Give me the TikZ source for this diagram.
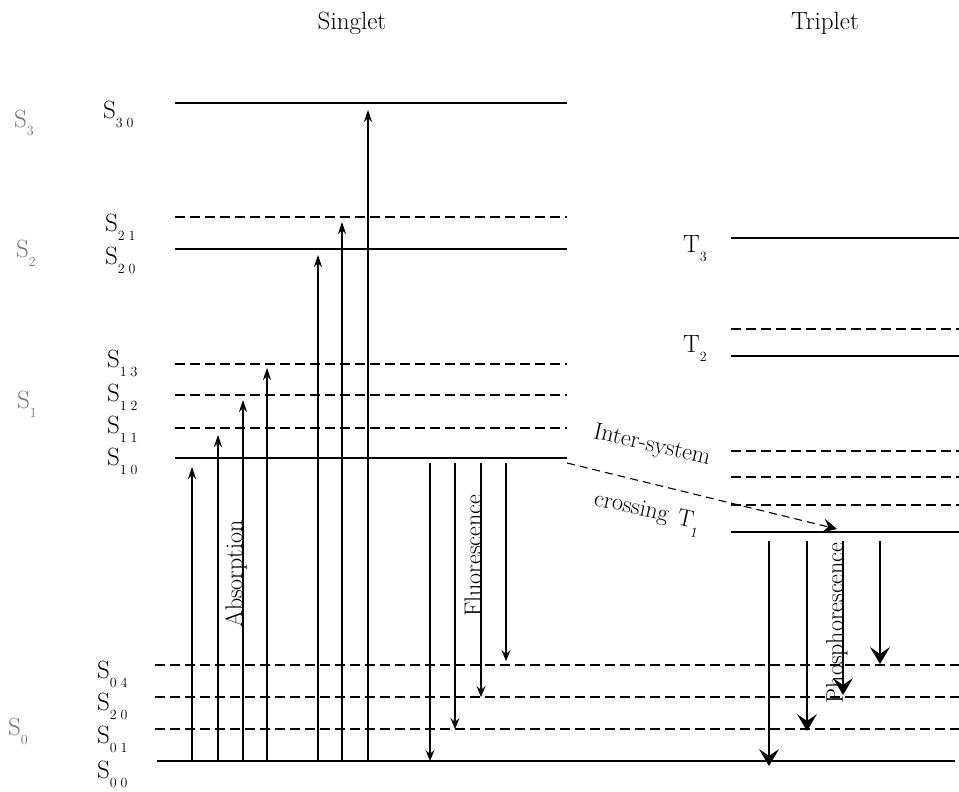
\documentclass[tikz,border=0pt]{standalone}
\usetikzlibrary{arrows.meta}
\newcommand{\lvsub}[2]{#1\raisebox{-9pt}{\fontsize{14}{14}\selectfont #2}}
\begin{document}
\begin{tikzpicture}[x=1pt,y=-1pt,
  solidlvl/.style={line width=1.8pt},
  dashlvl/.style={line width=1.3pt, dash pattern=on 10pt off 5pt},
  uparr/.style={line width=1.1pt,-{Stealth[length=12pt,width=8pt,inset=4pt]}},
  flarr/.style={line width=1.1pt,-{Stealth[length=11pt,width=9pt,inset=4pt]}},
  pharr/.style={line width=1.3pt,-{Stealth[length=17pt,width=20pt,inset=7pt]}},
  iscarr/.style={line width=1.1pt,dash pattern=on 8pt off 5pt,-{Stealth[length=14pt,width=14pt,inset=5pt]}},
  lvlab/.style={font=\fontsize{25}{25}\selectfont, inner sep=0pt, anchor=base west},
  graylab/.style={font=\fontsize{25}{25}\selectfont, inner sep=0pt, anchor=base west, text=black!55},
  title/.style={font=\fontsize{25}{25}\selectfont, inner sep=0pt, anchor=base},
  vtext/.style={font=\fontsize{24}{24}\selectfont, inner sep=0pt, rotate=90},
  isctext/.style={font=\fontsize{24}{24}\selectfont, inner sep=0pt}
]
\useasboundingbox (0,0) rectangle (959,792);

% titles
\node[title] (tsing) at (352,30) {Singlet};
\node[title] (ttrip) at (825,30) {Triplet};

% singlet upper levels
\coordinate (s30l) at (175,103); \coordinate (s30r) at (567,103);
\coordinate (s21l) at (175,217); \coordinate (s21r) at (567,217);
\coordinate (s20l) at (175,249); \coordinate (s20r) at (567,249);
\coordinate (s13l) at (175,364); \coordinate (s13r) at (567,364);
\coordinate (s12l) at (175,395); \coordinate (s12r) at (567,395);
\coordinate (s11l) at (175,428); \coordinate (s11r) at (567,428);
\coordinate (s10l) at (175,458); \coordinate (s10r) at (567,458);
\draw[solidlvl] (s30l) -- (s30r);
\draw[dashlvl]  (s21l) -- (s21r);
\draw[solidlvl] (s20l) -- (s20r);
\draw[dashlvl]  (s13l) -- (s13r);
\draw[dashlvl]  (s12l) -- (s12r);
\draw[dashlvl]  (s11l) -- (s11r);
\draw[solidlvl] (s10l) -- (s10r);

% ground levels
\coordinate (g4l) at (155,665); \coordinate (g4r) at (959,665);
\coordinate (g2l) at (155,697); \coordinate (g2r) at (959,697);
\coordinate (g1l) at (155,729); \coordinate (g1r) at (959,729);
\coordinate (g0l) at (157,761); \coordinate (g0r) at (955,761);
\draw[dashlvl]  (g4l) -- (g4r);
\draw[dashlvl]  (g2l) -- (g2r);
\draw[dashlvl]  (g1l) -- (g1r);
\draw[solidlvl] (g0l) -- (g0r);

% triplet levels
\coordinate (t3l) at (731,238); \coordinate (t3r) at (959,238);
\coordinate (t2dl) at (731,329); \coordinate (t2dr) at (959,329);
\coordinate (t2l) at (731,356); \coordinate (t2r) at (959,356);
\coordinate (t1cl) at (731,451); \coordinate (t1cr) at (959,451);
\coordinate (t1bl) at (731,477); \coordinate (t1br) at (959,477);
\coordinate (t1al) at (731,505); \coordinate (t1ar) at (959,505);
\coordinate (t1l) at (731,532); \coordinate (t1r) at (959,532);
\draw[solidlvl] (t3l) -- (t3r);
\draw[dashlvl]  (t2dl) -- (t2dr);
\draw[solidlvl] (t2l) -- (t2r);
\draw[dashlvl]  (t1cl) -- (t1cr);
\draw[dashlvl]  (t1bl) -- (t1br);
\draw[dashlvl]  (t1al) -- (t1ar);
\draw[solidlvl] (t1l) -- (t1r);

% left gray labels
\node[graylab] (lS3) at (14,127) {\lvsub{S}{3}};
\node[graylab] (lS2) at (16,257) {\lvsub{S}{2}};
\node[graylab] (lS1) at (17,408) {\lvsub{S}{1}};
\node[graylab] (lS0) at (8,735) {\lvsub{S}{0}};

% singlet level labels
\node[lvlab] (nS30) at (103,118) {\lvsub{S}{3\;0}};
\node[lvlab] (nS21) at (105,231) {\lvsub{S}{2\;1}};
\node[lvlab] (nS20) at (105,264) {\lvsub{S}{2\;0}};
\node[lvlab] (nS13) at (107,367) {\lvsub{S}{1\;3}};
\node[lvlab] (nS12) at (107,401) {\lvsub{S}{1\;2}};
\node[lvlab] (nS11) at (107,433) {\lvsub{S}{1\;1}};
\node[lvlab] (nS10) at (107,465) {\lvsub{S}{1\;0}};
\node[lvlab] (nS04) at (97,678) {\lvsub{S}{0\;4}};
\node[lvlab] (nS20b) at (97,710) {\lvsub{S}{2\;0}};
\node[lvlab] (nS01) at (97,743) {\lvsub{S}{0\;1}};
\node[lvlab] (nS00) at (97,778) {\lvsub{S}{0\;0}};

% triplet labels
\node[lvlab] (nT3) at (683,252) {\lvsub{T}{3}};
\node[lvlab] (nT2) at (683,352) {\lvsub{T}{2}};

% absorption arrows
\coordinate (a1s) at (192,761); \coordinate (a1e) at (192,467);
\coordinate (a2s) at (218,761); \coordinate (a2e) at (218,435);
\coordinate (a3s) at (243,761); \coordinate (a3e) at (243,400);
\coordinate (a4s) at (267,761); \coordinate (a4e) at (267,368);
\coordinate (a5s) at (318,761); \coordinate (a5e) at (318,255);
\coordinate (a6s) at (342,761); \coordinate (a6e) at (342,222);
\coordinate (a7s) at (368,761); \coordinate (a7e) at (368,110);
\foreach \i in {1,...,7} \draw[uparr] (a\i s) -- (a\i e);
\node[vtext] (absorb) at (236,574) {Absorption};

% fluorescence arrows
\coordinate (f1s) at (430,463); \coordinate (f1e) at (430,761);
\coordinate (f2s) at (455,463); \coordinate (f2e) at (455,729);
\coordinate (f3s) at (481,463); \coordinate (f3e) at (481,697);
\coordinate (f4s) at (506,463); \coordinate (f4e) at (506,661);
\foreach \i in {1,...,4} \draw[flarr] (f\i s) -- (f\i e);
\node[vtext] (fluor) at (473,556) {Fluorescence};

% inter-system crossing
\coordinate (iscs) at (567,463);
\coordinate (isce) at (837,529);
\draw[iscarr] (iscs) -- (isce);
\node[isctext, rotate=-13] (isc1) at (652,446) {Inter-system};
\node[isctext, rotate=-12.5, anchor=base west] (isc2) at (593,505) {crossing};
\node[isctext, rotate=-12.5, anchor=base west] (isc3) at (676,524) {\lvsub{T}{1}};

% phosphorescence arrows
\coordinate (p1s) at (769,541); \coordinate (p1e) at (769,766);
\coordinate (p2s) at (807,541); \coordinate (p2e) at (807,731);
\coordinate (p3s) at (843,541); \coordinate (p3e) at (843,695);
\coordinate (p4s) at (880,541); \coordinate (p4e) at (880,664);
\foreach \i in {1,...,4} \draw[pharr] (p\i s) -- (p\i e);
\node[vtext] (phos) at (837,623) {Phosphorescence};
\end{tikzpicture}
\end{document}
